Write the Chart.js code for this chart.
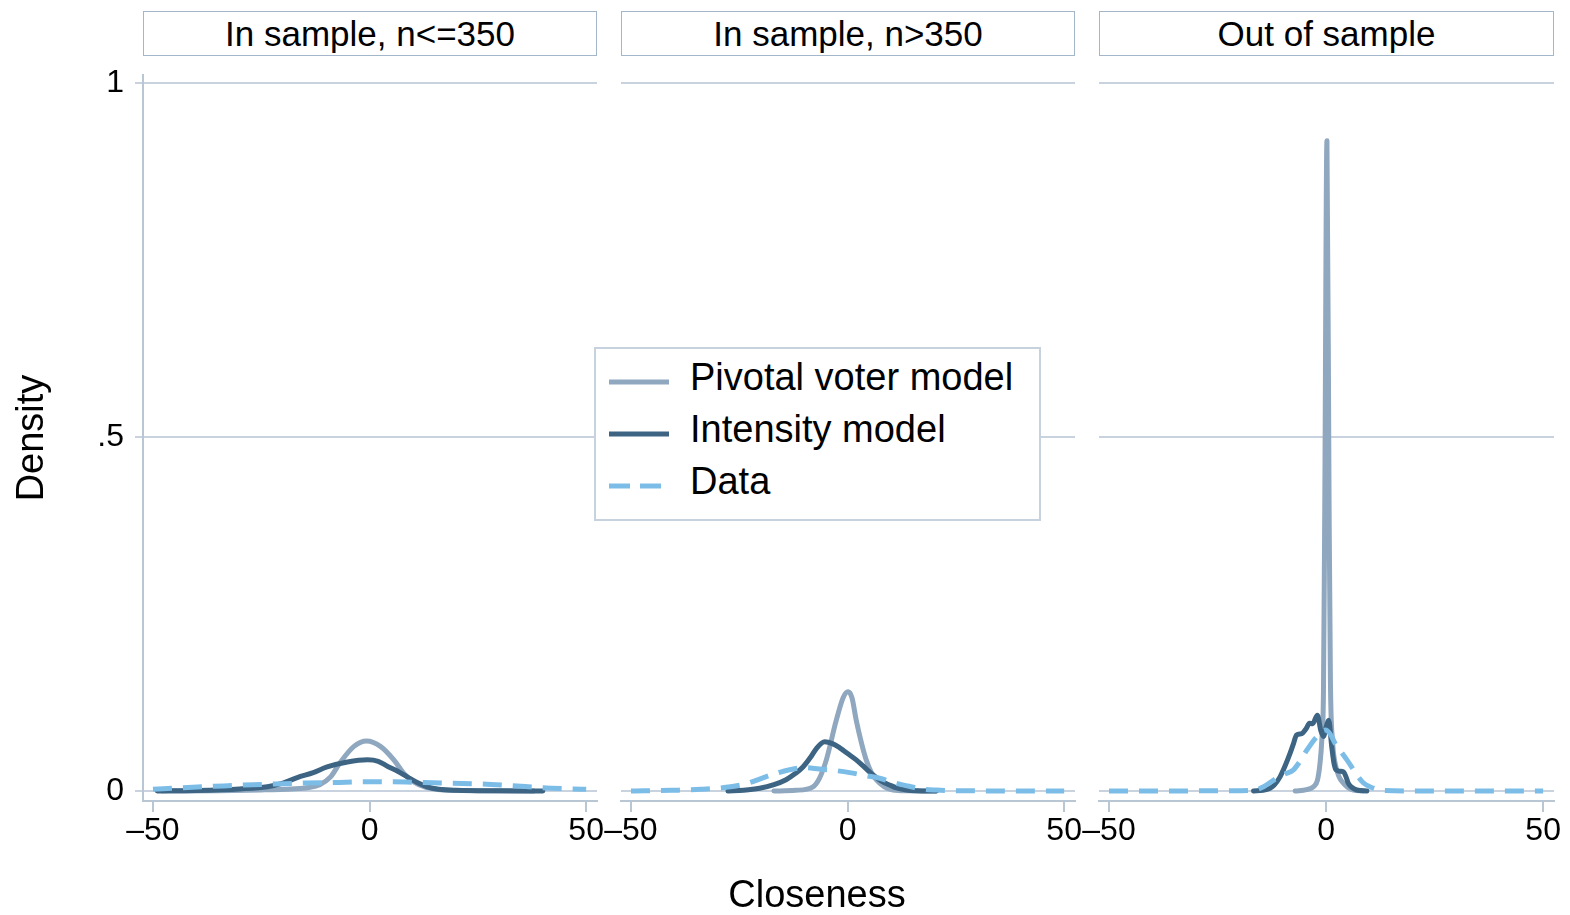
<!DOCTYPE html>
<html><head><meta charset="utf-8">
<script src="https://cdn.jsdelivr.net/npm/chart.js@4.4.1/dist/chart.umd.min.js"></script>
<style>
body{margin:0;background:#fff;width:1570px;height:915px;overflow:hidden;position:relative;font-family:'Liberation Sans',Arial,sans-serif;color:#000;}
canvas{position:absolute;top:0;}
.hdr{position:absolute;top:11px;height:45px;box-sizing:border-box;border:1.5px solid #a3b6ca;background:#fff;display:flex;align-items:center;justify-content:center;font-size:35px;white-space:nowrap;}
.lgtext{position:absolute;font-size:38px;line-height:38px;white-space:nowrap;}
</style></head><body>
<script>
// ---------- data ----------
const panelTitles = ["In sample, n<=350", "In sample, n>350", "Out of sample"];
const seriesNames = ["Pivotal voter model", "Intensity model", "Data"];
const xTickValues = [-50, 0, 50];
const xTickLabels = ["\u201350", "0", "50"];
const yTickValues = [0, 0.5, 1];
const yTickLabels = ["0", ".5", "1"];
const xTitle = "Closeness";
const yTitle = "Density";

// panel 1: In sample, n<=350
const pivotal1 = [[-48,0],[-35,0.0005],[-25,0.0015],[-18,0.003],[-14,0.005],[-11.5,0.009],[-9,0.020],[-6.7,0.041],[-3.6,0.063],[-0.7,0.0705],[2.5,0.063],[5.6,0.044],[7.9,0.025],[10.2,0.013],[13,0.005],[17,0.0015],[25,0.0005],[38,0]];
const intensity1 = [[-49,0],[-40,0.0008],[-30,0.003],[-23.6,0.006],[-20,0.011],[-16.7,0.019],[-13,0.026],[-9.8,0.034],[-5.1,0.041],[-0.5,0.044],[2,0.042],[4.1,0.035],[6.5,0.028],[8.7,0.020],[11,0.012],[13.3,0.006],[16,0.0025],[20,0.001],[30,0.0003],[40,0]];
const data1 = [[-50,0.0024],[-43,0.0047],[-36,0.0066],[-29,0.0085],[-22,0.0099],[-15,0.0113],[-8,0.012],[-1.5,0.013],[5.5,0.013],[12.5,0.012],[19,0.011],[26,0.0099],[33,0.0075],[40,0.0047],[47,0.003],[50,0.0024]];

// panel 2: In sample, n>350
const pivotal2 = [[-17,0],[-12,0.001],[-8,0.006],[-6.5,0.018],[-4.9,0.044],[-2.6,0.10],[-1,0.132],[0.1,0.140],[1,0.132],[2,0.10],[3.2,0.068],[4.3,0.044],[5.5,0.026],[6.6,0.016],[8.5,0.006],[10.5,0.0014],[14,0.0003],[20.5,0]];
const intensity2 = [[-27.6,0],[-24,0.001],[-20.3,0.0038],[-17,0.009],[-14.2,0.016],[-12,0.025],[-10.3,0.034],[-8.5,0.048],[-7.2,0.060],[-5.3,0.0696],[-3.5,0.067],[-1.8,0.061],[0,0.053],[2,0.044],[4,0.033],[5.9,0.0226],[7.8,0.014],[9.7,0.0085],[11.5,0.004],[13.6,0.0014],[16,0.0004],[20.5,0]];
const data2 = [[-50,0],[-47,0.0003],[-40.7,0.001],[-33.8,0.0024],[-27,0.006],[-23,0.011],[-20,0.0176],[-16.5,0.025],[-13.4,0.030],[-10,0.033],[-6.5,0.031],[-3,0.029],[0.5,0.026],[4,0.022],[7.4,0.018],[10.5,0.012],[13.9,0.007],[17,0.003],[20.5,0.0014],[25,0.0005],[30,0.0002],[40,0],[50,0]];

// panel 3: Out of sample
const pivotal3 = [[-7.1,0],[-4.5,0.002],[-2.9,0.006],[-2,0.015],[-1.4,0.039],[-1.0,0.07],[-0.6,0.14],[-0.3,0.4],[0.2,0.918],[0.7,0.4],[1.0,0.157],[1.5,0.07],[2.1,0.039],[3,0.02],[4,0.011],[5,0.005],[6.3,0.0014],[8.6,0]];
const intensity3 = [[-16.7,0],[-14.5,0.001],[-12.9,0.004],[-12,0.008],[-10.6,0.020],[-9.4,0.036],[-8.3,0.053],[-7.5,0.067],[-6.8,0.079],[-5.6,0.081],[-4.6,0.088],[-3.8,0.0956],[-3.1,0.095],[-2,0.107],[-1.2,0.085],[-0.6,0.077],[0,0.090],[0.6,0.100],[1.3,0.063],[1.8,0.040],[2.3,0.030],[3.2,0.028],[4,0.027],[4.6,0.020],[5.1,0.011],[6,0.005],[7.1,0.0014],[9.4,0]];
const data3 = [[-50,0],[-40,0],[-30,0.0002],[-20,0.0005],[-16.7,0.001],[-14.4,0.006],[-11.4,0.018],[-9.5,0.024],[-7.5,0.030],[-6,0.042],[-4.4,0.058],[-2.1,0.077],[-0.2,0.086],[1,0.080],[2.1,0.067],[3.5,0.055],[4.8,0.044],[6,0.033],[7.1,0.0226],[8.5,0.012],[10.1,0.006],[13,0.001],[20,0],[30,0],[40,0],[50,0]];

const panelSeries = [[pivotal1,intensity1,data1],[pivotal2,intensity2,data2],[pivotal3,intensity3,data3]];

// ---------- styles / layout ----------
const seriesColors = ["#8fa7bf", "#3d6482", "#7cbde8"];
const gridColor = "#c8d3df";
const axisColor = "#b9c6d4";
const FONT = "'Liberation Sans', Arial, sans-serif";
Chart.defaults.font.family = FONT;
Chart.defaults.color = "#000";

const panelGeom = [
  {left:0,    w:640, padL:0,  padR:43, areaL:143,  areaR:597},
  {left:600,  w:500, padL:21, padR:25, areaL:621,  areaR:1075},
  {left:1078, w:492, padL:21, padR:16, areaL:1099, areaR:1554}
];

function makeChart(i){
  const g = panelGeom[i];
  const cv = document.createElement('canvas');
  cv.width = g.w; cv.height = 915;
  cv.style.left = g.left + 'px';
  document.body.appendChild(cv);
  const first = i === 0;
  new Chart(cv, {
    type: 'line',
    data: {datasets: panelSeries[i].map((pts,k)=>({
      label: seriesNames[k],
      data: pts.map(p=>({x:p[0], y:p[1]})),
      borderColor: seriesColors[k],
      backgroundColor: seriesColors[k],
      borderWidth: 5,
      borderDash: k===2 ? [19,11] : [],
      borderCapStyle: k===2 ? 'butt' : 'round',
      borderJoinStyle: 'round',
      pointRadius: 0,
      fill: false,
      cubicInterpolationMode: 'monotone',
      order: 3-k
    }))},
    options: {
      responsive:false, animation:false, events:[],
      layout:{padding:{left:g.padL, right:g.padR, top:75, bottom:0}},
      plugins:{legend:{display:false}, tooltip:{enabled:false}, title:{display:false}},
      scales:{
        x:{type:'linear', min:-52.3, max:52.5,
          afterBuildTicks: s=>{ s.ticks = xTickValues.map(v=>({value:v})); },
          afterFit: s=>{ s.height = 114; },
          ticks:{autoSkip:false, maxRotation:0, minRotation:0, padding:0, color:'#000', font:{size:32},
            callback:(v,idx)=>xTickLabels[idx]},
          grid:{drawOnChartArea:false, drawTicks:true, tickLength:11, color:axisColor, lineWidth:2},
          border:{display:true, color:axisColor, width:2}
        },
        y:{type:'linear', min:-0.0141, max:1.011,
          afterBuildTicks: s=>{ s.ticks = yTickValues.map(v=>({value:v})); },
          afterFit: s=>{ s.width = first ? 143 : 0; },
          ticks:{display:first, padding:11, color:'#000', font:{size:32},
            callback:(v,idx)=>yTickLabels[idx]},
          grid:{color:gridColor, lineWidth:2, drawTicks:first, tickLength:8},
          border:{display:first, color:axisColor, width:2},
          title:{display:first, text:yTitle, color:'#000', font:{size:38}, padding:{top:10,bottom:0}}
        }
      }
    }
  });
  const h = document.createElement('div');
  h.className = 'hdr';
  h.style.left = g.areaL + 'px';
  h.style.width = (g.areaR - g.areaL) + 'px';
  h.textContent = panelTitles[i];
  document.body.appendChild(h);
}
[0,1,2].forEach(makeChart);

// x-axis title
const xt = document.createElement('div');
xt.className = 'lgtext';
xt.style.left = '0px'; xt.style.width = '1634px'; xt.style.textAlign = 'center';
xt.style.top = '875px';
xt.textContent = xTitle;
document.body.appendChild(xt);

// legend
const lg = document.createElement('div');
lg.style.cssText = 'position:absolute;left:594px;top:347px;width:447px;height:174px;box-sizing:border-box;border:2px solid #c6d2de;background:#fff;';
document.body.appendChild(lg);
seriesNames.forEach((name,k)=>{
  const cy = 382 + 52*k;
  const svg = document.createElementNS('http://www.w3.org/2000/svg','svg');
  svg.setAttribute('width','60'); svg.setAttribute('height','10');
  svg.style.cssText = 'position:absolute;left:609px;top:'+(cy-5)+'px;';
  const ln = document.createElementNS('http://www.w3.org/2000/svg','line');
  ln.setAttribute('x1','0'); ln.setAttribute('x2','60'); ln.setAttribute('y1','5'); ln.setAttribute('y2','5');
  ln.setAttribute('stroke', seriesColors[k]); ln.setAttribute('stroke-width','5');
  if (k===2) ln.setAttribute('stroke-dasharray','21 10');
  svg.appendChild(ln);
  document.body.appendChild(svg);
  const t = document.createElement('div');
  t.className = 'lgtext';
  t.style.left = '690px'; t.style.top = (390 + 52*k - 32) + 'px';
  t.textContent = name;
  document.body.appendChild(t);
});
</script>
</body></html>
